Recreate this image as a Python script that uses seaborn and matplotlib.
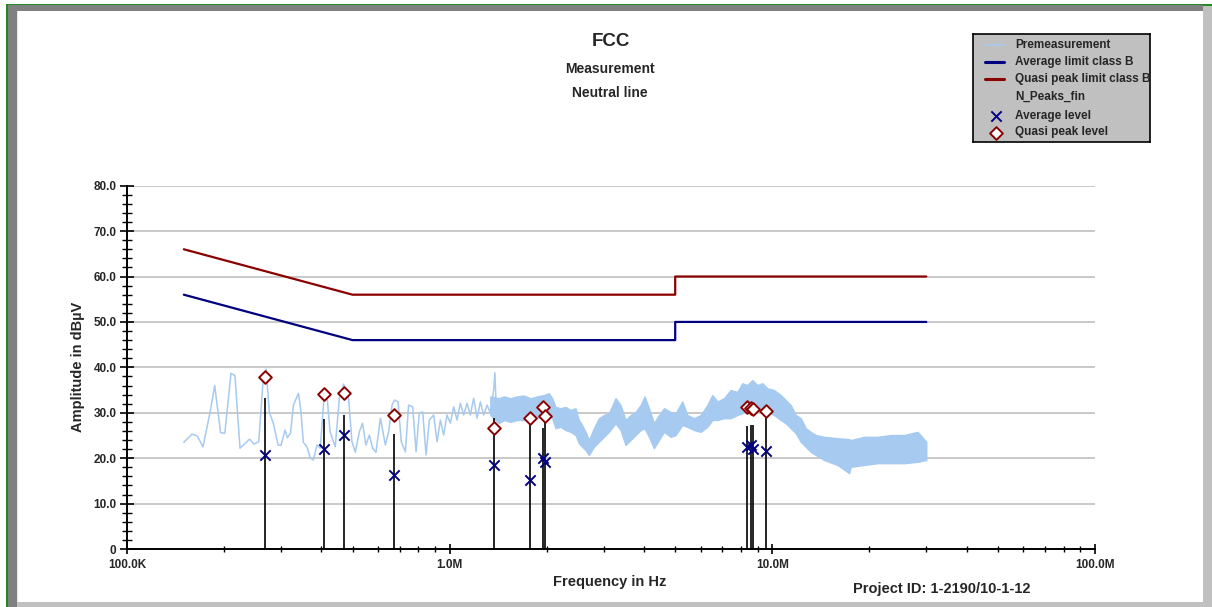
import numpy as np
import pandas as pd
import matplotlib
matplotlib.use("Agg")
import matplotlib.pyplot as plt
import seaborn as sns
from matplotlib.patches import Rectangle
from matplotlib.ticker import FixedLocator, MultipleLocator, NullFormatter

# ---------------------------------------------------------------- data
# Premeasurement, low-frequency part (kHz, dBµV)
pre_f_khz = [150, 159, 165, 172, 181, 187, 195, 201, 210, 216, 224, 240, 247, 256,
             264, 270, 276, 284, 294, 300, 309, 314, 321, 328, 340, 346, 352, 361,
             370, 378, 388, 397, 408, 416, 426, 442, 455, 469, 486, 498, 510, 525,
             537, 550, 564, 577, 591, 610, 632, 647, 663, 675, 692, 708, 729, 746,
             768, 787, 805, 825, 845, 865, 892, 914, 936, 958, 981, 1005, 1029,
             1054, 1079, 1105, 1132, 1159, 1187, 1216, 1245, 1275, 1306, 1337,
             1369, 1381, 1395]
pre_level = [23.5, 25.3, 24.9, 22.5, 30.2, 36.0, 25.6, 25.5, 38.7, 38.2, 22.2, 24.2,
             23.1, 23.6, 36.9, 39.6, 30.2, 27.7, 22.9, 22.8, 26.2, 24.5, 25.5, 31.7,
             34.3, 30.2, 23.5, 22.5, 20.0, 19.6, 22.9, 22.2, 33.2, 34.3, 25.8, 22.5,
             33.2, 36.3, 33.2, 23.6, 21.3, 25.8, 27.7, 22.9, 25.1, 22.2, 21.3, 28.8,
             22.9, 25.8, 31.7, 32.8, 32.4, 23.6, 21.4, 31.7, 31.3, 21.4, 29.9, 30.2,
             20.7, 28.4, 29.5, 23.6, 28.4, 25.1, 29.5, 27.7, 31.3, 28.4, 32.1, 29.5,
             32.1, 29.5, 33.2, 28.8, 32.4, 29.5, 31.7, 29.9, 35.0, 38.8, 30.5]

# Premeasurement, dense part: upper / lower envelope of the sweep (kHz, dBµV)
band_f_khz = [1337, 1420, 1472, 1543, 1618, 1697, 1780, 1867, 1958, 2029, 2078,
              2128, 2205, 2286, 2369, 2455, 2514, 2574, 2636, 2700, 2799, 2900,
              3006, 3115, 3267, 3385, 3508, 3636, 3769, 3906, 4018, 4146, 4296,
              4453, 4615, 4839, 5015, 5260, 5451, 5717, 5995, 6287, 6516, 6753,
              7082, 7427, 7789, 8072, 8366, 8670, 8986, 9313, 9654, 10120, 10620,
              11000, 11400, 11820, 12250, 12690, 13150, 13640, 14470, 15920,
              17300, 17510, 19260, 21180, 23300, 25630, 28190, 30000]
band_hi = [33.6, 33.2, 33.6, 33.2, 33.6, 33.8, 33.2, 33.6, 33.9, 34.3, 33.2,
           31.3, 31.0, 31.3, 30.6, 31.0, 28.4, 27.3, 25.8, 24.0, 26.6, 28.8,
           29.5, 29.9, 33.2, 31.7, 28.4, 29.5, 30.2, 31.7, 33.6, 31.0, 27.7,
           29.5, 31.0, 30.2, 29.9, 32.5, 29.5, 28.8, 29.5, 31.7, 33.9, 32.5,
           33.2, 35.0, 34.6, 36.5, 36.1, 37.2, 36.1, 36.5, 35.4, 35.0, 33.9,
           32.8, 31.7, 29.5, 28.8, 26.6, 25.8, 25.1, 24.7, 24.4,
           24.2, 24.0, 24.7, 24.7, 25.1, 25.1, 25.8, 23.6]
band_lo = [29.5, 27.7, 28.4, 28.0, 28.4, 28.4, 28.8, 28.8, 29.5, 29.9, 28.8,
           26.6, 26.9, 26.2, 25.8, 25.1, 23.3, 22.5, 21.8, 20.7, 22.5, 23.6,
           24.7, 25.8, 27.7, 26.2, 22.9, 24.0, 25.1, 26.2, 26.6, 24.7, 22.2,
           24.0, 25.8, 24.7, 25.1, 27.3, 26.9, 26.2, 25.8, 26.9, 28.4, 28.4,
           28.8, 28.8, 29.5, 29.9, 30.6, 31.0, 31.0, 30.6, 30.2, 29.5, 28.4,
           27.7, 26.6, 25.5, 23.6, 22.5, 21.4, 20.7, 19.6, 18.5,
           16.7, 18.1, 18.5, 18.9, 18.9, 18.9, 19.2, 19.6]

# Class B limits (kHz, dBµV)
limit_f_khz = [150, 500, 5000, 5000, 30000]
avg_limit = [56, 46, 46, 50, 50]
qp_limit = [66, 56, 56, 60, 60]

# Final measurement peaks (kHz, dBµV)
peak_f_khz = [267, 408, 469, 672, 1373, 1772, 1940, 1977, 8370, 8610, 8690, 9540]
peak_level = [33.3, 28.6, 29.4, 25.3, 28.8, 28.3, 26.6, 27.7, 27.1, 27.2, 27.2, 29.3]
qp_level = [37.9, 34.1, 34.3, 29.4, 26.7, 28.9, 31.3, 29.2, 31.2, 31.0, 30.8, 30.4]
avg_level = [20.7, 22.1, 25.1, 16.3, 18.6, 15.3, 20.1, 19.2, 22.5, 23.0, 22.0, 21.6]

x_ticks = [1e5, 1e6, 1e7, 1e8]
x_tick_labels = ["100.0K", "1.0M", "10.0M", "100.0M"]
y_ticks = [0, 10, 20, 30, 40, 50, 60, 70, 80]
y_tick_labels = ["0", "10.0", "20.0", "30.0", "40.0", "50.0", "60.0", "70.0", "80.0"]

legend_labels = ["Premeasurement", "Average limit class B", "Quasi peak limit class B",
                 "N_Peaks_fin", "Average level", "Quasi peak level"]

# ---------------------------------------------------------------- style
PRE = "#a6caf0"
NAVY = "#000080"
DRED = "#8b0000"
GRID = "#c0c0c0"

sns.set_style("white")
plt.rcParams["font.family"] = ["Liberation Sans", "DejaVu Sans"]
plt.rcParams["font.weight"] = "bold"

W, H = 1212, 607
fig = plt.figure(figsize=(W / 100, H / 100), dpi=100)
fig.patch.set_facecolor("white")


def fx(px):
    return px / W


def fy(py):
    return 1 - py / H


def frame_rect(x0, y0, x1, y1, color):
    fig.patches.append(Rectangle((fx(x0), fy(y1)), fx(x1) - fx(x0), fy(y0) - fy(y1),
                                 transform=fig.transFigure, facecolor=color,
                                 edgecolor="none", zorder=0))


# window frame
frame_rect(6, 4, 1212, 5.5, "#1f8a1f")
frame_rect(6, 4, 7.5, 607, "#1f8a1f")
frame_rect(7.5, 5.5, 1203, 10.5, "#808080")
frame_rect(7.5, 5.5, 17, 607, "#808080")
frame_rect(17, 10.5, 18, 607, "#e6e6e6")
frame_rect(1203, 5.5, 1212, 607, "#c0c0c0")
frame_rect(17, 602, 1212, 607, "#c0c0c0")

# ---------------------------------------------------------------- main axes
ax = fig.add_axes([fx(127), fy(549), fx(1095) - fx(127), fy(185.7) - fy(549)])
ax.set_facecolor("none")

band_f = np.array(band_f_khz) * 1e3
ax.fill_between(band_f, band_lo, band_hi, color=PRE, linewidth=1.0, zorder=2)
sns.lineplot(x=np.array(pre_f_khz) * 1e3, y=pre_level, ax=ax, color=PRE,
             linewidth=1.1, estimator=None, sort=False, zorder=2)

lim_f = np.array(limit_f_khz) * 1e3
sns.lineplot(x=lim_f, y=avg_limit, ax=ax, color=NAVY, linewidth=1.6,
             estimator=None, sort=False, zorder=3)
sns.lineplot(x=lim_f, y=qp_limit, ax=ax, color=DRED, linewidth=1.6,
             estimator=None, sort=False, zorder=3)

pk_f = np.array(peak_f_khz) * 1e3
ax.vlines(pk_f, 0, peak_level, color="black", linewidth=1.2, zorder=4)
sns.scatterplot(x=pk_f, y=avg_level, ax=ax, marker="x", s=55, color=NAVY,
                linewidth=1.4, zorder=5)
sns.scatterplot(x=pk_f, y=qp_level, ax=ax, marker="D", s=42, color="white",
                edgecolor=DRED, linewidth=1.4, zorder=6)

ax.set_xscale("log")
ax.set_xlim(1e5, 1e8)
ax.set_ylim(0, 80)
ax.set_xlabel("")
ax.set_ylabel("")

ax.xaxis.set_major_locator(FixedLocator(x_ticks))
ax.set_xticklabels(x_tick_labels)
minor_x = [m * d for d in (1e5, 1e6, 1e7) for m in range(2, 10)]
ax.xaxis.set_minor_locator(FixedLocator(minor_x))
ax.xaxis.set_minor_formatter(NullFormatter())
ax.set_yticks(y_ticks)
ax.set_yticklabels(y_tick_labels)
ax.yaxis.set_minor_locator(MultipleLocator(2))

ax.tick_params(axis="x", which="major", direction="inout", length=7, width=1.2,
               color="black", labelsize=8.5, pad=4)
ax.tick_params(axis="x", which="minor", direction="inout", length=5, width=1.0,
               color="black")
ax.tick_params(axis="y", which="major", direction="inout", length=10, width=1.2,
               color="black", labelsize=8.5, pad=2.5)
ax.tick_params(axis="y", which="minor", direction="inout", length=7, width=1.0,
               color="black")
ax.tick_params(left=True, bottom=True, which="both")
for lab in ax.get_xticklabels() + ax.get_yticklabels():
    lab.set_fontweight("bold")

ax.yaxis.grid(True, color=GRID, linewidth=1.2)
ax.xaxis.grid(False)
ax.set_axisbelow(True)
for side in ("top", "right"):
    ax.spines[side].set_visible(False)
for side in ("left", "bottom"):
    ax.spines[side].set_color("black")
    ax.spines[side].set_linewidth(1.4)

# ---------------------------------------------------------------- texts
fig.text(fx(611), fy(41), "FCC", ha="center", va="center", fontsize=13.5, fontweight="bold")
fig.text(fx(610), fy(69), "Measurement", ha="center", va="center", fontsize=10, fontweight="bold")
fig.text(fx(610), fy(93), "Neutral line", ha="center", va="center", fontsize=10, fontweight="bold")
fig.text(fx(78), fy(367), "Amplitude in dBµV", ha="center", va="center", rotation=90,
         fontsize=10.5, fontweight="bold")
fig.text(fx(610), fy(582), "Frequency in Hz", ha="center", va="center",
         fontsize=10.5, fontweight="bold")
fig.text(fx(942), fy(589), "Project ID: 1-2190/10-1-12", ha="center", va="center",
         fontsize=10.5, fontweight="bold")

# ---------------------------------------------------------------- legend box
lx0, ly0, lx1, ly1 = 973, 34, 1150, 142
lax = fig.add_axes([fx(lx0), fy(ly1), fx(lx1) - fx(lx0), fy(ly0) - fy(ly1)])
lax.set_xlim(0, lx1 - lx0)
lax.set_ylim(ly1 - ly0, 0)
lax.set_facecolor("#c0c0c0")
lax.set_xticks([])
lax.set_yticks([])
for sp in lax.spines.values():
    sp.set_visible(True)
    sp.set_color("black")
    sp.set_linewidth(1.2)

rows = [45, 61.5, 79, 97, 115.5, 132.5]
handle_x = [985 - lx0, 1004 - lx0]
mark_x = 996 - lx0
lax.plot(handle_x, [rows[0] - ly0] * 2, color=PRE, linewidth=1.2)
lax.plot(handle_x, [rows[1] - ly0] * 2, color=NAVY, linewidth=2.2)
lax.plot(handle_x, [rows[2] - ly0] * 2, color=DRED, linewidth=2.2)
lax.scatter([mark_x], [rows[4] - ly0], marker="x", s=55, color=NAVY, linewidth=1.4)
lax.scatter([mark_x], [rows[5] - ly0], marker="D", s=42, color="white",
            edgecolor=DRED, linewidth=1.4)
for r, lab in zip(rows, legend_labels):
    lax.text(1015 - lx0, r - ly0, lab, va="center", ha="left", fontsize=8.5,
             fontweight="bold", clip_on=False)

fig.savefig("out.png", dpi=100)
